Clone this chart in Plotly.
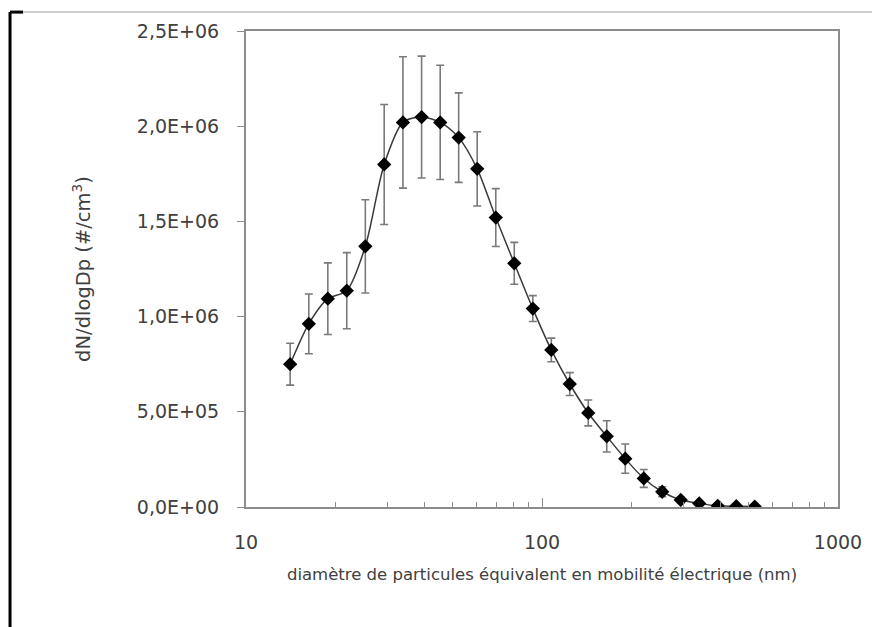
import plotly.graph_objects as go

# Diamètres (nm) et concentrations
diametre_nm = [14.1, 16.3, 18.9, 21.9, 25.3, 29.3, 33.9, 39.2, 45.3, 52.3,
               60.4, 69.8, 80.6, 93.1, 107.5, 124.1, 143.3, 165.5, 191.1,
               220.7, 254.8, 294.3, 339.8, 392.4, 453.2, 523.3]
dn_dlogdp = [0.75e6, 0.962e6, 1.094e6, 1.136e6, 1.369e6, 1.799e6, 2.02e6,
             2.048e6, 2.02e6, 1.94e6, 1.776e6, 1.52e6, 1.28e6, 1.042e6,
             0.825e6, 0.646e6, 0.494e6, 0.371e6, 0.254e6, 0.15e6, 0.08e6,
             0.037e6, 0.019e6, 0.006e6, 0.004e6, 0.002e6]
ecart_type = [0.11e6, 0.157e6, 0.188e6, 0.2e6, 0.245e6, 0.315e6, 0.345e6,
              0.32e6, 0.3e6, 0.235e6, 0.195e6, 0.152e6, 0.11e6, 0.068e6,
              0.062e6, 0.06e6, 0.068e6, 0.082e6, 0.077e6, 0.047e6, 0.026e6,
              0.015e6, 0.01e6, 0.005e6, 0.005e6, 0.005e6]

y_ticks = [0, 5e5, 1e6, 1.5e6, 2e6, 2.5e6]
y_labels = ["0,0E+00", "5,0E+05", "1,0E+06", "1,5E+06", "2,0E+06", "2,5E+06"]
x_ticks = [10, 100, 1000]
x_labels = ["10", "100", "1000"]
x_minor = [20, 30, 40, 50, 60, 70, 80, 90, 200, 300, 400, 500, 600, 700, 800, 900]

GRIS_AXE = "#8c8c8c"
TEXTE = "#404040"
POLICE = "DejaVu Sans, sans-serif"

fig = go.Figure()

fig.add_trace(go.Scatter(
    x=diametre_nm,
    y=dn_dlogdp,
    mode="lines+markers",
    line=dict(color="#3a3a3a", width=1.5, shape="spline", smoothing=0.8),
    marker=dict(symbol="diamond", size=11, color="black"),
    error_y=dict(type="data", array=ecart_type, visible=True,
                 color="#7a7a7a", thickness=1.6, width=4),
    showlegend=False
))

fig.update_layout(
    width=880,
    height=627,
    paper_bgcolor="white",
    plot_bgcolor="white",
    margin=dict(l=238, r=50, t=20, b=128),
    font=dict(family=POLICE, color=TEXTE)
)

fig.update_xaxes(
    type="log",
    range=[1, 3],
    tickvals=x_ticks,
    ticktext=x_labels,
    ticks="inside",
    ticklen=9,
    tickcolor=GRIS_AXE,
    minor=dict(tickvals=x_minor, ticks="inside", ticklen=5, tickcolor=GRIS_AXE),
    showgrid=False,
    showline=True,
    linecolor=GRIS_AXE,
    linewidth=2,
    mirror=True,
    ticklabelstandoff=17,
    tickfont=dict(size=19, color=TEXTE),
    title=dict(text="diamètre de particules équivalent en mobilité électrique (nm)",
               font=dict(size=16.5, color=TEXTE), standoff=17)
)

fig.update_yaxes(
    range=[0, 2.5e6],
    tickvals=y_ticks,
    ticktext=y_labels,
    ticks="outside",
    ticklen=7,
    tickcolor=GRIS_AXE,
    showgrid=False,
    zeroline=False,
    showline=True,
    linecolor=GRIS_AXE,
    linewidth=2,
    mirror=True,
    ticklabelstandoff=14,
    tickfont=dict(size=19, color=TEXTE),
    title=dict(text="dN/dlogDp (#/cm<sup>3</sup>)",
               font=dict(size=19.5, color=TEXTE), standoff=41)
)

# cadre de la page (trait noir à gauche, trait gris en haut)
fig.add_shape(type="line", xref="paper", yref="paper",
              x0=-0.3986, x1=-0.3986, y0=1.0397, y1=-0.27,
              line=dict(color="black", width=3))
fig.add_shape(type="line", xref="paper", yref="paper",
              x0=-0.3986, x1=-0.3767, y0=1.0397, y1=1.0397,
              line=dict(color="black", width=3))
fig.add_shape(type="line", xref="paper", yref="paper",
              x0=-0.3767, x1=1.069, y0=1.0397, y1=1.0397,
              line=dict(color="#cfcfcf", width=2))

fig.write_html("out.html")
